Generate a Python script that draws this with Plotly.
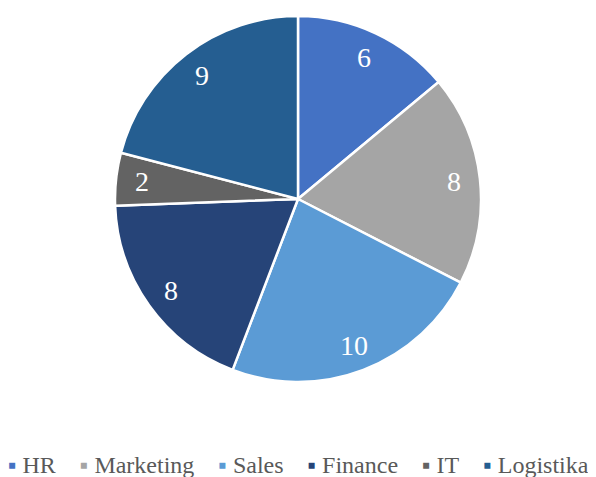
import math
import plotly.graph_objects as go

labels = ["HR", "Marketing", "Sales", "Finance", "IT", "Logistika"]
values = [6, 8, 10, 8, 2, 9]
colors = ["#4472C4", "#A5A5A5", "#5B9BD5", "#264478", "#636363", "#255E91"]

# The page body adds an 8px margin at the top-left of the figure
PAGE_PAD = 8
W, H = 596 - 2 * PAGE_PAD, 477 - PAGE_PAD
cx_px, cy_px, r_px = 298 - PAGE_PAD, 199 - PAGE_PAD, 183
SERIF = "Liberation Serif"

fig = go.Figure(go.Pie(
    labels=labels,
    values=values,
    sort=False,
    direction="clockwise",
    rotation=0,
    marker=dict(colors=colors, line=dict(color="white", width=2.5)),
    textinfo="none",
    hoverinfo="label+value",
    showlegend=False,
    domain=dict(x=[(cx_px - r_px) / W, (cx_px + r_px) / W],
                y=[1 - (cy_px + r_px) / H, 1 - (cy_px - r_px) / H]),
))

# value labels near the outer end of each slice (computed from the values)
total = sum(values)
cum = 0
for v in values:
    mid = (cum + v / 2) / total * 2 * math.pi
    cum += v
    rr = r_px * 0.855
    x = (cx_px + rr * math.sin(mid)) / W
    y = 1 - (cy_px - rr * math.cos(mid)) / H
    fig.add_annotation(x=x, y=y, xref="paper", yref="paper", text=str(v),
                       showarrow=False, xanchor="center", yanchor="middle",
                       font=dict(family=SERIF, size=28, color="white"))

# legend row (Excel style: small square, label)
NB = "\u00a0"
parts = []
for lab, col in zip(labels, colors):
    parts.append(f'<span style="color:{col}">\u25aa</span>{NB}{lab}')
legend_text = (NB * 4).join(parts)
fig.add_annotation(x=0.5, y=1 - (465 - PAGE_PAD) / H,
                   xref="paper", yref="paper", text=legend_text,
                   showarrow=False, xanchor="center", yanchor="middle",
                   font=dict(family=SERIF, size=24, color="#595959"))

fig.update_layout(
    width=W, height=H,
    margin=dict(l=0, r=0, t=0, b=0, autoexpand=False),
    paper_bgcolor="white",
    plot_bgcolor="white",
    showlegend=False,
)

fig.write_html("out.html")
